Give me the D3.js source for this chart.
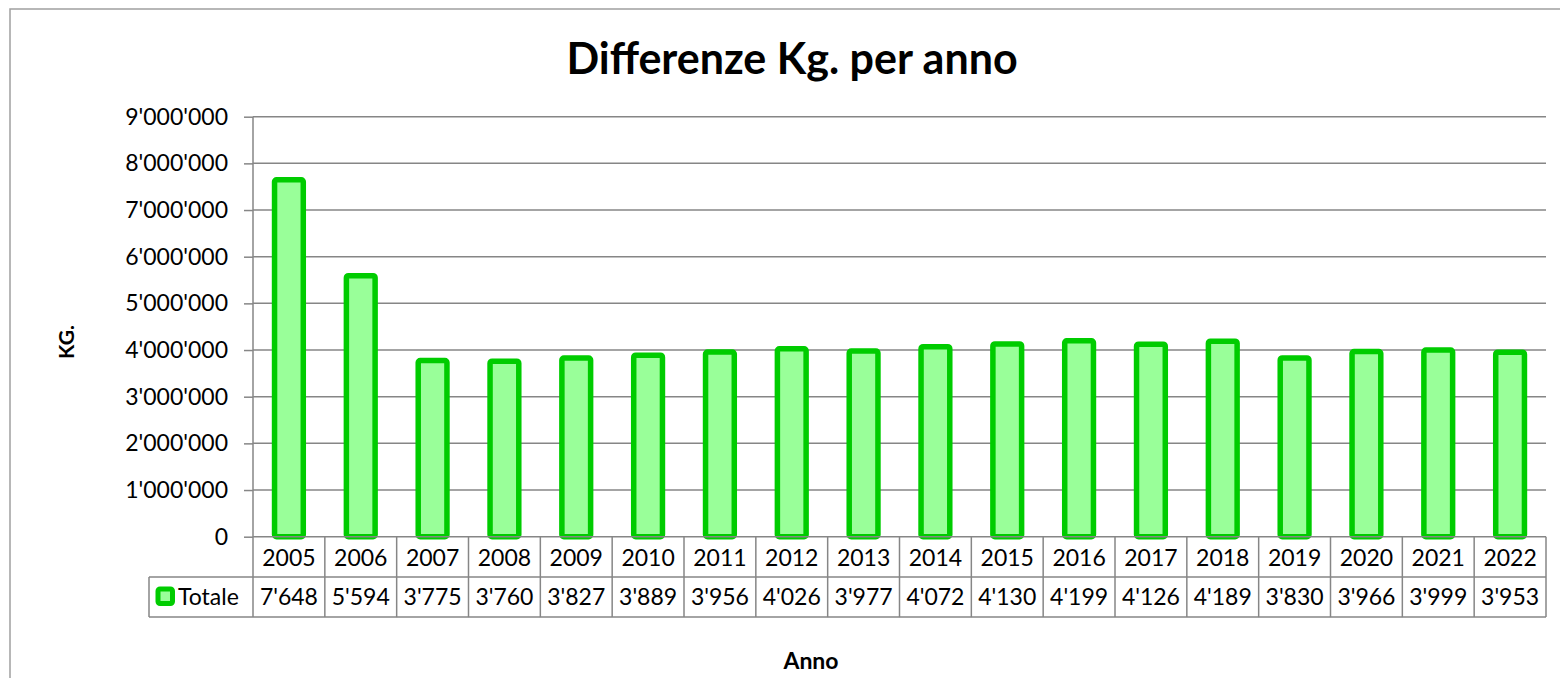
<!DOCTYPE html>
<html>
<head>
<meta charset="utf-8">
<script src="https://cdn.jsdelivr.net/npm/d3@7"></script>
<style>
  html, body { margin: 0; padding: 0; background: #fff; }
  svg { display: block; font-family: Lato, "Open Sans", sans-serif; }
</style>
</head>
<body>
<svg id="chart" width="1560" height="678"></svg>
<script>
const years = ["2005","2006","2007","2008","2009","2010","2011","2012","2013","2014","2015","2016","2017","2018","2019","2020","2021","2022"];
const totale = [7648000,5594000,3775000,3760000,3827000,3889000,3956000,4026000,3977000,4072000,4130000,4199000,4126000,4189000,3830000,3966000,3999000,3953000];
const yTicks = [0,1000000,2000000,3000000,4000000,5000000,6000000,7000000,8000000,9000000];
const seriesName = "Totale";
const titleText = "Differenze Kg. per anno";
const yTitle = "KG.";
const xTitle = "Anno";

const svg = d3.select("#chart");
const pLeft = 253, pRight = 1546, pTop = 116.7, pBottom = 536.7;
const rowH = 40.2;
const gridColor = "#868686";
const fs = 23;

const x = d3.scaleBand().domain(years).range([pLeft, pRight]).paddingInner(0).paddingOuter(0);
const y = d3.scaleLinear().domain([0, 9000000]).range([pBottom, pTop]);
const fmt = v => d3.format(",")(v).replace(/,/g, "'");

// outer frame
svg.append("rect").attr("x", 10).attr("y", 9).attr("width", 1600).attr("height", 720)
  .attr("fill", "none").attr("stroke", "#a0a0a0").attr("stroke-width", 1.5);

// title
svg.append("text").attr("x", 792).attr("y", 74).attr("text-anchor", "middle")
  .attr("font-size", 43).attr("font-weight", 700).attr("fill", "#000").text(titleText);

// gridlines
svg.append("g").selectAll("line").data(yTicks.filter(d => d > 0)).join("line")
  .attr("x1", pLeft).attr("x2", pRight).attr("y1", d => y(d)).attr("y2", d => y(d))
  .attr("stroke", gridColor).attr("stroke-width", 1.5);

// y axis
const yAxis = d3.axisLeft(y).tickValues(yTicks).tickFormat(fmt).tickSize(9).tickPadding(16);
const gy = svg.append("g").attr("transform", `translate(${pLeft},0)`).call(yAxis);
gy.select(".domain").remove();
gy.selectAll(".tick line").attr("stroke", gridColor).attr("stroke-width", 1.5);
gy.selectAll(".tick text").attr("font-size", fs).attr("fill", "#000").attr("font-family", "Lato, sans-serif");
svg.append("line").attr("x1", pLeft).attr("x2", pLeft).attr("y1", pTop).attr("y2", pBottom + 2 * rowH)
  .attr("stroke", gridColor).attr("stroke-width", 1.5);

// bars
const bw = x.bandwidth() * 0.4;
svg.append("g").selectAll("rect").data(years).join("rect")
  .attr("x", (d) => x(d) + (x.bandwidth() - bw) / 2)
  .attr("y", (d, i) => y(totale[i]))
  .attr("width", bw)
  .attr("height", (d, i) => y(0) - y(totale[i]))
  .attr("rx", 2)
  .attr("fill", "#99ff99").attr("stroke", "#00cc00").attr("stroke-width", 5.5);

// data table
const tbl = svg.append("g");
tbl.append("line").attr("x1", pLeft).attr("x2", pRight).attr("y1", pBottom).attr("y2", pBottom)
  .attr("stroke", gridColor).attr("stroke-width", 1.5);
tbl.append("line").attr("x1", 149).attr("x2", pRight).attr("y1", pBottom + rowH).attr("y2", pBottom + rowH)
  .attr("stroke", gridColor).attr("stroke-width", 1.5);
tbl.append("line").attr("x1", 149).attr("x2", pRight).attr("y1", pBottom + 2 * rowH).attr("y2", pBottom + 2 * rowH)
  .attr("stroke", gridColor).attr("stroke-width", 1.5);
tbl.append("line").attr("x1", 149).attr("x2", 149).attr("y1", pBottom + rowH).attr("y2", pBottom + 2 * rowH)
  .attr("stroke", gridColor).attr("stroke-width", 1.5);
tbl.selectAll(".vl").data(years).join("line").attr("class", "vl")
  .attr("x1", d => x(d) + x.bandwidth()).attr("x2", d => x(d) + x.bandwidth())
  .attr("y1", pBottom).attr("y2", pBottom + 2 * rowH)
  .attr("stroke", gridColor).attr("stroke-width", 1.5);
tbl.selectAll(".yr").data(years).join("text").attr("class", "yr")
  .attr("x", d => x(d) + x.bandwidth() / 2).attr("y", pBottom + 29)
  .attr("text-anchor", "middle").attr("font-size", fs).attr("fill", "#000").text(d => d);
tbl.selectAll(".val").data(years).join("text").attr("class", "val")
  .attr("x", d => x(d) + x.bandwidth() / 2).attr("y", pBottom + rowH + 28.5)
  .attr("text-anchor", "middle").attr("font-size", fs).attr("fill", "#000")
  .text((d, i) => fmt(Math.round(totale[i] / 1000)));
// legend key
tbl.append("rect").attr("x", 158).attr("y", 589).attr("width", 14.5).attr("height", 14.5).attr("rx", 2)
  .attr("fill", "#99ff99").attr("stroke", "#00cc00").attr("stroke-width", 5);
tbl.append("text").attr("x", 178).attr("y", pBottom + rowH + 28.5).attr("font-size", fs).attr("fill", "#000").text(seriesName);

// axis titles
svg.append("text").attr("transform", "translate(74,342) rotate(-90)").attr("text-anchor", "middle")
  .attr("font-size", 21).attr("font-weight", 700).attr("fill", "#000").text(yTitle);
svg.append("text").attr("x", 811).attr("y", 669).attr("text-anchor", "middle")
  .attr("font-size", 23).attr("font-weight", 700).attr("fill", "#000").text(xTitle);
</script>
</body>
</html>
